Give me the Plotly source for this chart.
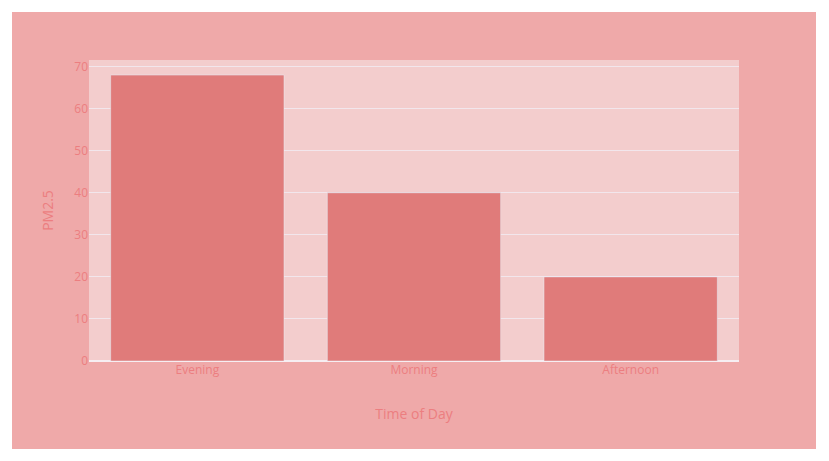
import plotly.graph_objects as go

# Data
times = ['Evening', 'Morning', 'Afternoon']
pm25 = [68, 40, 20]

fig = go.Figure()

fig.add_trace(go.Bar(
    x=times,
    y=pm25,
    marker_color='#E07B7A',
    name='PM2.5'
))

fig.update_layout(
    width=804,
    height=437,
    paper_bgcolor='#EFA9A9',
    plot_bgcolor='#F3CDCD',
    font=dict(color='#EC7E80', size=12),
    margin=dict(l=77, r=77, t=48, b=88),
    xaxis=dict(
        title=dict(text='Time of Day', font=dict(size=14), standoff=32),
        showgrid=False,
    ),
    yaxis=dict(
        title=dict(text='PM2.5', font=dict(size=14), standoff=17),
        gridcolor='#F2E6EC',
        zerolinecolor='#F6EEF2',
        zerolinewidth=2,
    ),
    showlegend=False,
)

fig.write_html("out.html", post_script="document.body.style.margin='12px';")
